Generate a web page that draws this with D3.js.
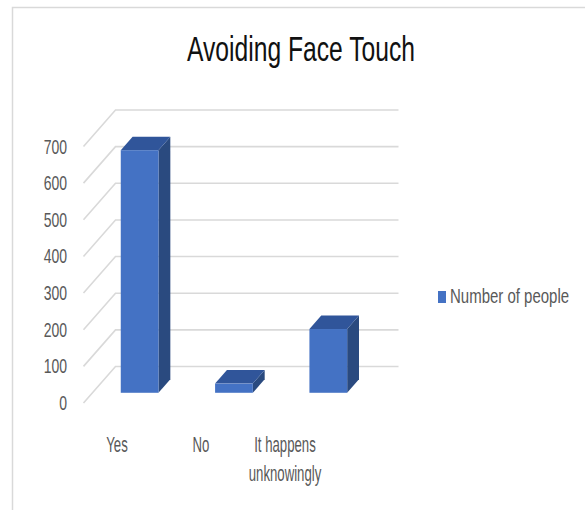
<!DOCTYPE html>
<html>
<head>
<meta charset="utf-8">
<script src="https://cdn.jsdelivr.net/npm/d3@7"></script>
<style>
  html, body { margin: 0; padding: 0; background: #fff; }
  svg { display: block; }
  text { font-family: "Liberation Sans", Arial, sans-serif; }
</style>
</head>
<body>
<svg id="chart" width="585" height="510"></svg>
<script>
// ---- data ----
const title = "Avoiding Face Touch";
const categories = ["Yes", "No", "It happens unknowingly"];
const values = [662, 25, 174];
const seriesName = "Number of people";
const yTicks = [0, 100, 200, 300, 400, 500, 600, 700];

// ---- layout ----
const svg = d3.select("#chart");
const W = 585, H = 510;
const floorY = 403;          // front floor edge (value 0)
const DX = 32, DY = -36.5;   // full depth vector
const d0 = 0.28, bd = 0.37;  // bar front depth & bar depth fraction

const y = d3.scaleLinear().domain([0, 700]).range([0, 256.5]);
const x = d3.scaleBand().domain(categories).range([83.5, 366.5])
  .paddingInner(0.6).paddingOuter(0.3);
const xLabel = d3.scalePoint().domain(categories).range([117, 285]);

// border
svg.append("path").attr("d", `M12.5,${H} V7.5 H${W}`)
  .attr("fill", "none").attr("stroke", "#D9D9D9").attr("stroke-width", 1.5);

// title
svg.append("text")
  .attr("transform", "translate(301,61) scale(0.705,1)")
  .attr("text-anchor", "middle")
  .attr("font-size", 35).attr("fill", "#111")
  .text(title);

// gridlines
const grid = svg.append("g").attr("stroke", "#D9D9D9").attr("stroke-width", 1.6).attr("fill", "none");
yTicks.forEach(t => {
  const fy = floorY - y(t);
  const [x0, x1] = x.range();
  grid.append("path").attr("d",
    `M${x0},${fy} L${x0 + DX},${fy + DY} L${x1 + DX},${fy + DY}`);
});

// y labels
svg.append("g").selectAll("text").data(yTicks).join("text")
  .attr("transform", t => `translate(67,${floorY - y(t) + 7}) scale(0.7,1)`)
  .attr("text-anchor", "end")
  .attr("font-size", 20).attr("fill", "#595959")
  .text(d => d);

// bars
const bars = svg.append("g");
const bw = x.bandwidth();
const ddx = bd * DX, ddy = bd * DY;
categories.forEach((c, i) => {
  const v = values[i];
  const x0 = x(c) + d0 * DX;
  const yb = floorY + d0 * DY;
  const yt = yb - y(v);
  const g = bars.append("g");
  g.append("path").attr("fill", "#2A4A7F")
    .attr("d", `M${x0 + bw},${yt} L${x0 + bw + ddx},${yt + ddy} L${x0 + bw + ddx},${yb + ddy} L${x0 + bw},${yb} Z`);
  g.append("path").attr("fill", "#30559A")
    .attr("d", `M${x0},${yt} L${x0 + bw},${yt} L${x0 + bw + ddx},${yt + ddy} L${x0 + ddx},${yt + ddy} Z`);
  g.append("rect").attr("x", x0).attr("y", yt).attr("width", bw).attr("height", y(v))
    .attr("fill", "#4472C4");
});

// category labels
const wrap = s => {
  if (s.length <= 12) return [s];
  const k = s.lastIndexOf(" ");
  return [s.slice(0, k), s.slice(k + 1)];
};
categories.forEach(c => {
  wrap(c).forEach((line, j) => {
    svg.append("text")
      .attr("transform", `translate(${xLabel(c)},${452 + j * 29}) scale(0.6,1)`)
      .attr("text-anchor", "middle")
      .attr("font-size", 22).attr("fill", "#595959")
      .text(line);
  });
});

// legend
svg.append("rect").attr("x", 438).attr("y", 291).attr("width", 8).attr("height", 12)
  .attr("fill", "#4472C4");
svg.append("text")
  .attr("transform", "translate(450,303) scale(0.75,1)")
  .attr("font-size", 20).attr("fill", "#595959")
  .text(seriesName);
</script>
</body>
</html>
